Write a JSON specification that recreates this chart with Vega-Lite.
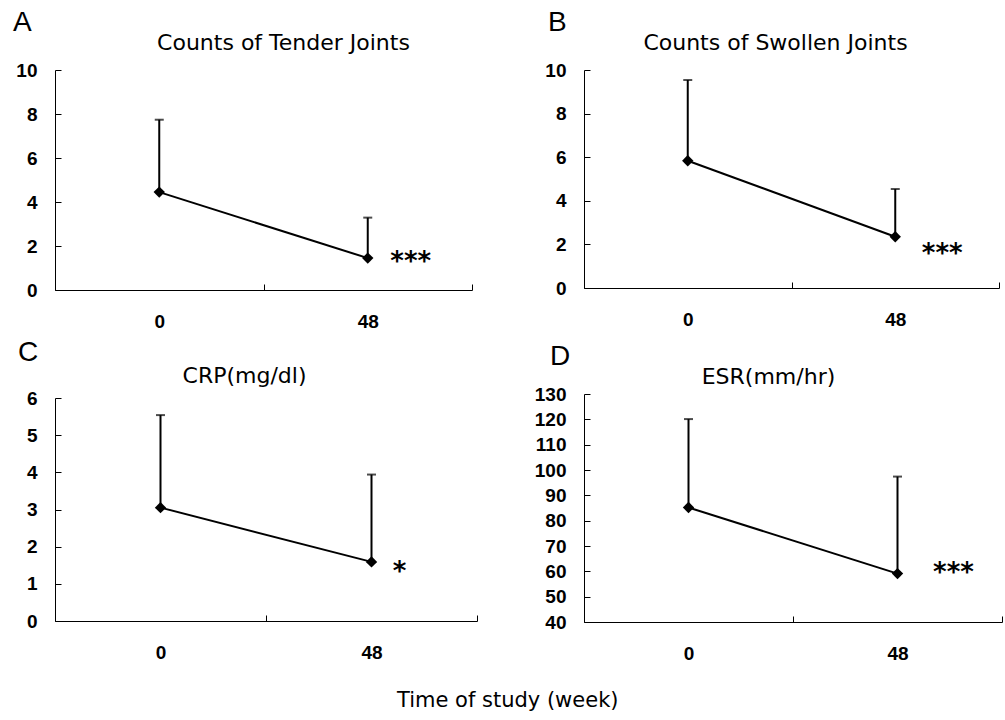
{
  "$schema": "https://vega.github.io/schema/vega-lite/v6.json",
  "background": "white",
  "padding": {"left": 13, "top": 9, "right": 3, "bottom": 4},
  "config": {
    "view": {"stroke": null},
    "font": "Liberation Sans",
    "axis": {
      "grid": false,
      "domainColor": "black",
      "domainWidth": 1,
      "tickColor": "black",
      "tickWidth": 1,
      "tickSize": -6,
      "labelColor": "black",
      "labelFontSize": 19,
      "labelFontWeight": "bold",
      "labelFont": "Liberation Sans",
      "labelOverlap": false
    },
    "axisX": {"labelPadding": 28, "labelAngle": 0, "tickBand": "extent", "title": null},
    "axisY": {"labelPadding": 24, "titleAngle": 0, "titleAlign": "center", "titleBaseline": "alphabetic", "titleFontSize": 22, "titleFont": "DejaVu Sans", "titleFontWeight": "normal", "titleColor": "black"},
    "title": {"fontSize": 28, "fontWeight": "normal", "color": "black", "font": "Liberation Sans", "anchor": "start", "frame": "group", "offset": -6}
  },
  "title": {"text": "Time of study (week)", "orient": "bottom", "offset": 27, "dx": 0, "anchor": "middle", "frame": "bounds", "fontSize": 21, "font": "DejaVu Sans"},
  "spacing": 56,
  "hconcat": [
    {
      "spacing": 8,
      "vconcat": [
        {
          "width": 417, "height": 220,
          "title": {"text": "A", "dx": -42},
          "data": {"values": [
            {"week": "0", "mean": 4.45, "upper": 7.74, "sig": ""},
            {"week": "48", "mean": 1.45, "upper": 3.29, "sig": "***"}
          ]},
          "encoding": {
            "x": {"field": "week", "type": "ordinal", "scale": {"type": "band", "paddingInner": 0, "paddingOuter": 0}},
            "y": {"field": "mean", "type": "quantitative", "scale": {"domain": [0, 10]},
              "axis": {"title": "Counts of Tender Joints", "titleX": 228, "titleY": -21, "values": [0, 2, 4, 6, 8, 10]}}
          },
          "layer": [
            {"mark": {"type": "rule", "color": "black", "strokeWidth": 2},
             "encoding": {"y2": {"field": "upper"}}},
            {"mark": {"type": "tick", "orient": "horizontal", "color": "black", "thickness": 2, "size": 9},
             "encoding": {"y": {"field": "upper", "type": "quantitative", "axis": {"title": "Counts of Tender Joints", "titleX": 228, "titleY": -21, "values": [0, 2, 4, 6, 8, 10]}}}},
            {"mark": {"type": "line", "color": "black", "strokeWidth": 2}, "encoding": {}},
            {"mark": {"type": "point", "shape": "diamond", "filled": true, "color": "black", "opacity": 1, "size": 130}},
            {"mark": {"type": "text", "font": "DejaVu Sans", "fontSize": 26, "fontWeight": "bold", "color": "black", "dx": 43, "dy": 4, "baseline": "middle"},
             "encoding": {"text": {"field": "sig"}}}
          ]
        },
        {
          "width": 422, "height": 223,
          "title": {"text": "C", "dx": -37, "offset": -3},
          "data": {"values": [
            {"week": "0", "mean": 3.05, "upper": 5.54, "sig": ""},
            {"week": "48", "mean": 1.59, "upper": 3.94, "sig": "*"}
          ]},
          "encoding": {
            "x": {"field": "week", "type": "ordinal", "scale": {"type": "band", "paddingInner": 0, "paddingOuter": 0}},
            "y": {"field": "mean", "type": "quantitative", "scale": {"domain": [0, 6]},
              "axis": {"title": "CRP(mg/dl)", "titleX": 189, "titleY": -16, "values": [0, 1, 2, 3, 4, 5, 6]}}
          },
          "layer": [
            {"mark": {"type": "rule", "color": "black", "strokeWidth": 2},
             "encoding": {"y2": {"field": "upper"}}},
            {"mark": {"type": "tick", "orient": "horizontal", "color": "black", "thickness": 2, "size": 9},
             "encoding": {"y": {"field": "upper", "type": "quantitative", "axis": {"title": "CRP(mg/dl)", "titleX": 189, "titleY": -16, "values": [0, 1, 2, 3, 4, 5, 6]}}}},
            {"mark": {"type": "line", "color": "black", "strokeWidth": 2}, "encoding": {}},
            {"mark": {"type": "point", "shape": "diamond", "filled": true, "color": "black", "opacity": 1, "size": 130}},
            {"mark": {"type": "text", "font": "DejaVu Sans", "fontSize": 26, "fontWeight": "bold", "color": "black", "dx": 28, "dy": 10, "baseline": "middle"},
             "encoding": {"text": {"field": "sig"}}}
          ]
        }
      ]
    },
    {
      "spacing": 14,
      "vconcat": [
        {
          "width": 415, "height": 218,
          "title": {"text": "B", "dx": -36},
          "data": {"values": [
            {"week": "0", "mean": 5.84, "upper": 9.54, "sig": ""},
            {"week": "48", "mean": 2.35, "upper": 4.54, "sig": "***"}
          ]},
          "encoding": {
            "x": {"field": "week", "type": "ordinal", "scale": {"type": "band", "paddingInner": 0, "paddingOuter": 0}},
            "y": {"field": "mean", "type": "quantitative", "scale": {"domain": [0, 10]},
              "axis": {"title": "Counts of Swollen Joints", "titleX": 191, "titleY": -21, "values": [0, 2, 4, 6, 8, 10]}}
          },
          "layer": [
            {"mark": {"type": "rule", "color": "black", "strokeWidth": 2},
             "encoding": {"y2": {"field": "upper"}}},
            {"mark": {"type": "tick", "orient": "horizontal", "color": "black", "thickness": 2, "size": 9},
             "encoding": {"y": {"field": "upper", "type": "quantitative", "axis": {"title": "Counts of Swollen Joints", "titleX": 191, "titleY": -21, "values": [0, 2, 4, 6, 8, 10]}}}},
            {"mark": {"type": "line", "color": "black", "strokeWidth": 2}, "encoding": {}},
            {"mark": {"type": "point", "shape": "diamond", "filled": true, "color": "black", "opacity": 1, "size": 130}},
            {"mark": {"type": "text", "font": "DejaVu Sans", "fontSize": 26, "fontWeight": "bold", "color": "black", "dx": 47, "dy": 17, "baseline": "middle"},
             "encoding": {"text": {"field": "sig"}}}
          ]
        },
        {
          "width": 418, "height": 228,
          "title": {"text": "D", "dx": -34},
          "data": {"values": [
            {"week": "0", "mean": 85.2, "upper": 120.1, "sig": ""},
            {"week": "48", "mean": 59.1, "upper": 97.4, "sig": "***"}
          ]},
          "encoding": {
            "x": {"field": "week", "type": "ordinal", "scale": {"type": "band", "paddingInner": 0, "paddingOuter": 0}},
            "y": {"field": "mean", "type": "quantitative", "scale": {"domain": [40, 130], "zero": false},
              "axis": {"title": "ESR(mm/hr)", "titleX": 184, "titleY": -11, "values": [40, 50, 60, 70, 80, 90, 100, 110, 120, 130]}}
          },
          "layer": [
            {"mark": {"type": "rule", "color": "black", "strokeWidth": 2},
             "encoding": {"y2": {"field": "upper"}}},
            {"mark": {"type": "tick", "orient": "horizontal", "color": "black", "thickness": 2, "size": 9},
             "encoding": {"y": {"field": "upper", "type": "quantitative", "axis": {"title": "ESR(mm/hr)", "titleX": 184, "titleY": -11, "values": [40, 50, 60, 70, 80, 90, 100, 110, 120, 130]}}}},
            {"mark": {"type": "line", "color": "black", "strokeWidth": 2}, "encoding": {}},
            {"mark": {"type": "point", "shape": "diamond", "filled": true, "color": "black", "opacity": 1, "size": 130}},
            {"mark": {"type": "text", "font": "DejaVu Sans", "fontSize": 26, "fontWeight": "bold", "color": "black", "dx": 56, "dy": -1, "baseline": "middle"},
             "encoding": {"text": {"field": "sig"}}}
          ]
        }
      ]
    }
  ]
}
